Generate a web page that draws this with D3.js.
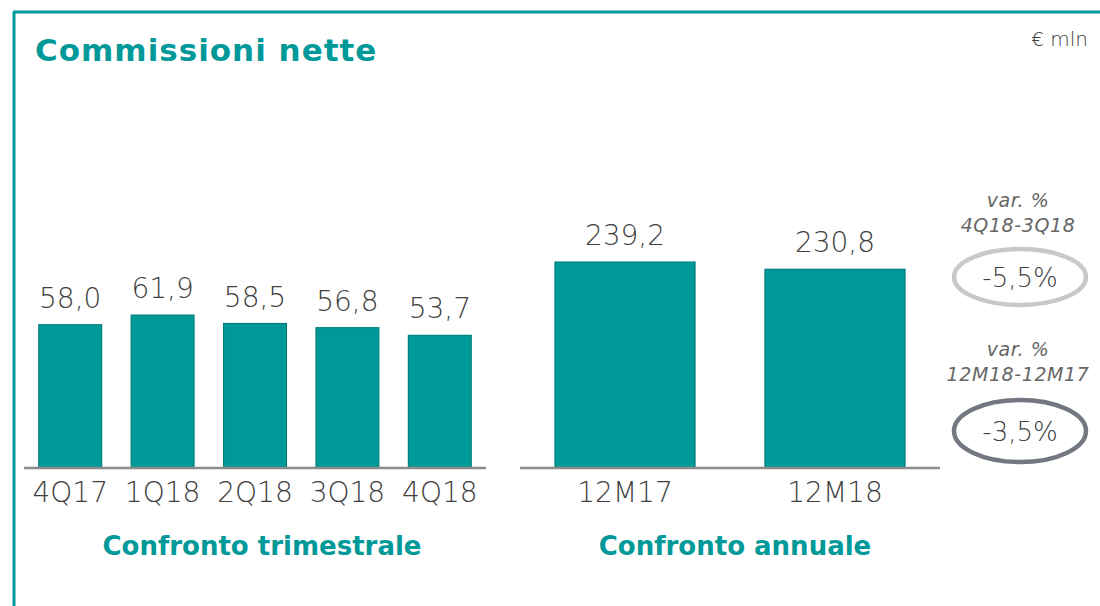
<!DOCTYPE html>
<html>
<head>
<meta charset="utf-8">
<script src="https://cdn.jsdelivr.net/npm/d3@7"></script>
<style>
  body { margin: 0; background: #fff; }
  svg { display: block; }
</style>
</head>
<body>
<div id="chart"></div>
<script>
// quarterly comparison
const quarters = ["4Q17", "1Q18", "2Q18", "3Q18", "4Q18"];
const quarterValues = [58.0, 61.9, 58.5, 56.8, 53.7];
// yearly comparison
const years = ["12M17", "12M18"];
const yearValues = [239.2, 230.8];
// variation boxes
const varTitles = [["var. %", "4Q18-3Q18"], ["var. %", "12M18-12M17"]];
const varValues = ["-5,5%", "-3,5%"];

const W = 1100, H = 606;
const teal = "#009999";
const textGray = "#404040";
const lightFont = "'DejaVu Sans', sans-serif";
const boldFont = "'DejaVu Sans', sans-serif";
const fmt = v => v.toFixed(1).replace(".", ",");

const svg = d3.select("#chart").append("svg")
    .attr("width", W)
    .attr("height", H);

// frame lines
svg.append("line").attr("x1", 13).attr("x2", W).attr("y1", 12).attr("y2", 12)
    .attr("stroke", teal).attr("stroke-width", 3);
svg.append("line").attr("x1", 14).attr("x2", 14).attr("y1", 12).attr("y2", H)
    .attr("stroke", teal).attr("stroke-width", 3);

svg.append("text")
    .attr("x", 35).attr("y", 61)
    .attr("font-family", boldFont).attr("font-weight", 700)
    .attr("font-size", 31).attr("letter-spacing", 1)
    .attr("fill", teal)
    .text("Commissioni nette");

svg.append("text")
    .attr("x", 1088).attr("y", 46)
    .attr("text-anchor", "end")
    .attr("font-family", lightFont).attr("font-weight", 200)
    .attr("font-size", 20).attr("fill", textGray)
    .text("€ mln");

const baseY = 468;

function drawPanel(cats, vals, x0, x1, pxPerUnit, padding, title, titleX) {
    const x = d3.scaleBand().domain(cats).range([x0, x1]).paddingInner(padding).paddingOuter(padding / 2);
    const maxV = d3.max(vals);
    const y = d3.scaleLinear().domain([0, maxV]).range([baseY, baseY - maxV * pxPerUnit]);
    const g = svg.append("g");
    const data = cats.map((c, i) => ({ c, v: vals[i] }));

    g.selectAll("rect").data(data).join("rect")
        .attr("x", d => x(d.c))
        .attr("y", d => y(d.v))
        .attr("width", x.bandwidth())
        .attr("height", d => baseY - y(d.v))
        .attr("fill", teal)
        .attr("stroke", "#00807f")
        .attr("stroke-width", 1.2);

    g.selectAll("text.val").data(data).join("text")
        .attr("class", "val")
        .attr("x", d => x(d.c) + x.bandwidth() / 2)
        .attr("y", d => y(d.v) - 17)
        .attr("text-anchor", "middle")
        .attr("font-family", lightFont).attr("font-weight", 200)
        .attr("font-size", 28).attr("fill", textGray)
        .text(d => fmt(d.v));

    const axis = g.append("g")
        .attr("transform", `translate(0,${baseY})`)
        .call(d3.axisBottom(x).tickSize(0).tickPadding(14));
    axis.select(".domain").attr("stroke", "#8c8c8c").attr("stroke-width", 2.5)
        .attr("d", `M${x0},0H${x1}`);
    axis.selectAll(".tick text")
        .attr("font-family", lightFont).attr("font-weight", 200)
        .attr("font-size", 28).attr("fill", textGray);

    svg.append("text")
        .attr("x", titleX).attr("y", 555)
        .attr("text-anchor", "middle")
        .attr("font-family", boldFont).attr("font-weight", 700)
        .attr("font-size", 26).attr("fill", teal)
        .text(title);
}

drawPanel(quarters, quarterValues, 24, 486, 2.47, 0.32, "Confronto trimestrale", 262);
drawPanel(years, yearValues, 520, 940, 0.861, 0.333, "Confronto annuale", 735);

// variation ellipses
const varBoxes = [
    { cy: 277, ry: 28, stroke: "#c8c8c8", titleY: 207 },
    { cy: 431, ry: 31, stroke: "#737880", titleY: 356 }
];
varBoxes.forEach((b, i) => {
    varTitles[i].forEach((t, j) => {
        svg.append("text")
            .attr("x", 1018).attr("y", b.titleY + j * 25)
            .attr("text-anchor", "middle")
            .attr("font-family", lightFont).attr("font-weight", 200)
            .attr("font-style", "italic")
            .attr("font-size", 19).attr("letter-spacing", 0.6)
            .attr("fill", "#666")
            .text(t);
    });
    svg.append("ellipse")
        .attr("cx", 1020).attr("cy", b.cy)
        .attr("rx", 66).attr("ry", b.ry)
        .attr("fill", "none")
        .attr("stroke", b.stroke)
        .attr("stroke-width", 4.5);
    svg.append("text")
        .attr("x", 1020).attr("y", b.cy + 10)
        .attr("text-anchor", "middle")
        .attr("font-family", lightFont).attr("font-weight", 200)
        .attr("font-size", 26).attr("fill", textGray)
        .text(varValues[i]);
});
</script>
</body>
</html>
